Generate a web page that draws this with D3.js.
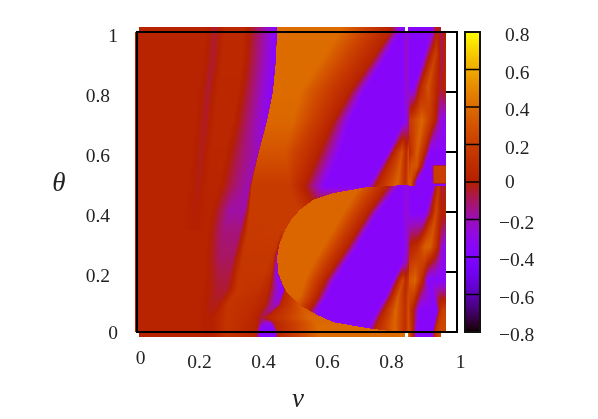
<!DOCTYPE html>
<html>
<head>
<meta charset="utf-8">
<script src="https://cdn.jsdelivr.net/npm/d3@7"></script>
<style>
  html, body { margin: 0; background: #fff; }
  #chart { position: relative; width: 598px; height: 419px; overflow: hidden; }
  #chart canvas, #chart svg { position: absolute; left: 0; top: 0; }
  text { font-family: "Liberation Serif", serif; font-size: 19.5px; fill: #222; }
</style>
</head>
<body>
<div id="chart"></div>
<script>
const vTicks = [0, 0.2, 0.4, 0.6, 0.8, 1];
const thetaTicks = [0, 0.2, 0.4, 0.6, 0.8, 1];
const barTicks = [0.8, 0.6, 0.4, 0.2, 0, -0.2, -0.4, -0.6, -0.8];

// values: each row is a list of v positions and the value there
const upperTheta = [1, 0.9, 0.8, 0.7, 0.6, 0.487, 0.407, 0.34];
const upperV = [
  [-0.006, 0.213, 0.244, 0.275, 0.331, 0.391, 0.437, 0.438, 0.634, 0.791, 0.822, 0.831, 0.834, 0.838, 0.844, 0.85],
  [-0.006, 0.206, 0.238, 0.269, 0.325, 0.384, 0.433, 0.434, 0.572, 0.728, 0.769, 0.831, 0.834, 0.838, 0.844, 0.85],
  [-0.006, 0.191, 0.222, 0.253, 0.313, 0.372, 0.424, 0.425, 0.509, 0.663, 0.709, 0.831, 0.834, 0.838, 0.844, 0.85],
  [-0.006, 0.181, 0.213, 0.244, 0.297, 0.353, 0.405, 0.406, 0.488, 0.609, 0.663, 0.831, 0.834, 0.838, 0.844, 0.85],
  [-0.006, 0.172, 0.203, 0.234, 0.275, 0.328, 0.38, 0.381, 0.463, 0.566, 0.634, 0.784, 0.803, 0.828, 0.841, 0.85],
  [-0.006, 0.159, 0.191, 0.222, 0.253, 0.309, 0.352, 0.358, 0.478, 0.519, 0.588, 0.722, 0.747, 0.813, 0.838, 0.85],
  [-0.006, 0.153, 0.184, 0.216, 0.234, 0.291, 0.338, 0.353, 0.494, 0.509, 0.541, 0.722, 0.747, 0.813, 0.838, 0.85],
  [-0.006, 0.147, 0.178, 0.209, 0.222, 0.269, 0.322, 0.347, 0.494, 0.509, 0.541, 0.722, 0.747, 0.813, 0.838, 0.85]
];
const upperZ = [
  [0.03, 0.03, -0.05, 0.07, 0.07, -0.16, -0.36, 0.4, 0.4, 0.03, -0.35, -0.35, -0.3, -0.3, -0.22, -0.3],
  [0.03, 0.03, -0.05, 0.07, 0.07, -0.16, -0.36, 0.4, 0.4, 0.03, -0.35, -0.35, -0.3, -0.3, -0.22, -0.3],
  [0.03, 0.03, -0.05, 0.06, 0.06, -0.16, -0.36, 0.4, 0.4, 0.03, -0.35, -0.35, -0.3, -0.3, -0.22, -0.3],
  [0.03, 0.03, -0.04, 0.06, 0.06, -0.14, -0.3, 0.38, 0.38, 0.03, -0.35, -0.35, -0.3, -0.3, -0.22, -0.3],
  [0.03, 0.03, -0.03, 0.05, 0.05, -0.11, -0.22, 0.3, 0.3, 0.03, -0.35, -0.35, 0.03, 0.3, 0.05, 0.3],
  [0.03, 0.03, -0.02, 0.04, 0.04, -0.12, -0.2, 0.18, 0.18, 0.03, -0.35, -0.35, 0.03, 0.38, 0.1, 0.35],
  [0.03, 0.03, -0.01, 0.03, 0.03, -0.18, -0.18, 0.18, 0.18, 0.18, 0.18, 0.18, 0.18, 0.18, 0.18, 0.18],
  [0.03, 0.03, 0, 0.03, 0.03, -0.13, -0.13, 0.17, 0.18, 0.18, 0.18, 0.18, 0.18, 0.18, 0.18, 0.18]
];

const lowerTheta = [0.34, 0.25, 0.197, 0.14, 0.09, 0.047, 0.033, 0.02, 0];
const lowerV = [
  [-0.006, 0.222, 0.269, 0.322, 0.347, 0.447, 0.45, 0.453, 0.456, 0.459, 0.509, 0.85],
  [-0.006, 0.213, 0.259, 0.3, 0.331, 0.416, 0.428, 0.434, 0.438, 0.441, 0.509, 0.85],
  [-0.006, 0.213, 0.256, 0.291, 0.322, 0.4, 0.422, 0.434, 0.438, 0.444, 0.509, 0.85],
  [-0.006, 0.206, 0.253, 0.281, 0.313, 0.378, 0.409, 0.447, 0.459, 0.463, 0.525, 0.85],
  [-0.006, 0.197, 0.228, 0.253, 0.284, 0.353, 0.397, 0.425, 0.441, 0.45, 0.509, 0.85],
  [-0.006, 0.191, 0.216, 0.234, 0.281, 0.347, 0.369, 0.384, 0.394, 0.409, 0.541, 0.85],
  [-0.006, 0.191, 0.216, 0.234, 0.281, 0.353, 0.378, 0.394, 0.419, 0.431, 0.556, 0.85],
  [-0.006, 0.191, 0.216, 0.234, 0.281, 0.353, 0.375, 0.391, 0.422, 0.434, 0.566, 0.85],
  [-0.006, 0.191, 0.216, 0.234, 0.281, 0.353, 0.372, 0.384, 0.431, 0.441, 0.572, 0.85]
];
const lowerZ = [
  [0.03, 0.03, -0.13, -0.13, 0.17, 0.18, 0.18, 0.18, 0.18, 0.18, 0.3, 0.4],
  [0.03, 0.03, -0.1, -0.1, 0.16, 0.16, 0.12, -0.15, -0.2, 0.1, 0.3, 0.4],
  [0.03, 0.03, -0.07, -0.07, 0.15, 0.15, 0.08, -0.3, -0.3, 0.1, 0.3, 0.4],
  [0.03, 0.03, -0.05, -0.05, 0.15, 0.12, 0.05, -0.33, -0.33, 0.05, 0.3, 0.4],
  [0.03, 0.03, -0.02, -0.02, 0.14, 0.1, 0.03, -0.2, -0.2, 0.05, 0.3, 0.4],
  [0.03, 0.03, 0, 0, 0.14, 0.08, 0.03, -0.03, -0.05, 0.05, 0.38, 0.4],
  [0.03, 0.03, 0, 0, 0.14, 0.07, 0.02, -0.2, -0.2, 0.05, 0.38, 0.4],
  [0.03, 0.03, 0, 0, 0.14, 0.06, 0.02, -0.33, -0.33, 0.04, 0.4, 0.4],
  [0.03, 0.03, 0, 0, 0.13, 0.05, 0.03, -0.35, -0.35, 0.05, 0.4, 0.4]
];

// left edge of the round region, theta then v
const arcTheta = [0.49, 0.483, 0.463, 0.44, 0.407, 0.373, 0.34, 0.29, 0.25, 0.197, 0.157, 0.13, 0.09, 0.057, 0.033, 0.013, 0.003, 0];
const arcV = [0.838, 0.719, 0.613, 0.55, 0.509, 0.481, 0.463, 0.444, 0.438, 0.441, 0.456, 0.469, 0.509, 0.563, 0.613, 0.719, 0.791, 0.85];

const discTheta = [0.487, 0.397, 0.283, 0.233, 0.173, 0.117, 0.073, 0.033, 0];
const discV = [
  [0.416, 0.697, 0.781, 0.822, 0.831, 0.834, 0.838, 0.844, 0.85],
  [0.416, 0.644, 0.722, 0.753, 0.831, 0.834, 0.838, 0.844, 0.85],
  [0.416, 0.581, 0.656, 0.688, 0.831, 0.834, 0.838, 0.844, 0.85],
  [0.416, 0.553, 0.625, 0.656, 0.828, 0.831, 0.834, 0.838, 0.85],
  [0.416, 0.525, 0.588, 0.619, 0.8, 0.816, 0.831, 0.841, 0.85],
  [0.416, 0.509, 0.563, 0.594, 0.775, 0.794, 0.816, 0.838, 0.85],
  [0.416, 0.509, 0.541, 0.566, 0.75, 0.772, 0.809, 0.838, 0.85],
  [0.416, 0.509, 0.541, 0.566, 0.731, 0.753, 0.806, 0.838, 0.85],
  [0.416, 0.509, 0.541, 0.566, 0.716, 0.741, 0.806, 0.838, 0.85]
];
const discZ = [
  [0.38, 0.38, 0.03, -0.35, -0.35, -0.3, -0.3, -0.3, -0.3],
  [0.38, 0.38, 0.03, -0.35, -0.35, -0.3, -0.3, -0.22, -0.3],
  [0.38, 0.38, 0.03, -0.35, -0.35, -0.3, -0.3, -0.22, -0.3],
  [0.38, 0.38, 0.03, -0.35, -0.35, -0.3, -0.3, -0.22, -0.1],
  [0.38, 0.38, 0.03, -0.35, -0.35, 0.03, 0.25, 0.05, 0.2],
  [0.38, 0.38, 0.03, -0.35, -0.35, 0.03, 0.33, 0.08, 0.28],
  [0.38, 0.2, 0, -0.35, -0.35, 0.03, 0.38, 0.1, 0.3],
  [0.38, 0.2, 0, -0.35, -0.35, 0.03, 0.38, 0.1, 0.3],
  [0.38, 0.2, 0, -0.35, -0.35, 0.03, 0.38, 0.1, 0.3]
];

const rightTopTheta = [1, 0.93, 0.817, 0.707, 0.597, 0.557, 0.553, 0.497, 0.493, 0.487];
const rightTopV = [
  [0.85, 0.916, 0.928, 0.934, 0.941, 0.95, 0.959, 0.966],
  [0.85, 0.897, 0.919, 0.934, 0.944, 0.953, 0.963, 0.966],
  [0.85, 0.866, 0.884, 0.909, 0.938, 0.95, 0.963, 0.966],
  [0.85, 0.859, 0.891, 0.919, 0.934, 0.947, 0.963, 0.966],
  [0.85, 0.859, 0.875, 0.9, 0.916, 0.947, 0.963, 0.966],
  [0.85, 0.859, 0.875, 0.888, 0.903, 0.925, 0.927, 0.966],
  [0.85, 0.859, 0.875, 0.888, 0.903, 0.925, 0.927, 0.966],
  [0.85, 0.856, 0.866, 0.872, 0.884, 0.925, 0.927, 0.966],
  [0.85, 0.856, 0.866, 0.872, 0.884, 0.925, 0.927, 0.966],
  [0.85, 0.856, 0.866, 0.872, 0.884, 0.925, 0.927, 0.966]
];
const rightTopZ = [
  [-0.35, -0.35, -0.2, 0, 0.02, -0.1, 0, 0],
  [-0.35, -0.35, 0.03, 0.2, 0.03, -0.1, 0.03, 0.03],
  [-0.35, -0.35, 0.03, 0.3, 0.03, -0.05, 0.05, 0.05],
  [0.15, 0.2, 0.38, 0.15, 0, -0.25, -0.3, -0.3],
  [0.05, 0.15, 0.35, 0.03, -0.35, -0.35, -0.35, -0.35],
  [0.2, 0.3, 0.3, 0.03, -0.35, -0.35, -0.35, -0.35],
  [0.2, 0.3, 0.3, 0.03, -0.35, -0.35, 0.2, 0.2],
  [0.35, 0.3, 0.03, -0.35, -0.35, -0.35, 0.2, 0.2],
  [0.35, 0.3, 0.03, -0.35, -0.35, -0.35, -0.35, -0.35],
  [0.35, 0.3, 0.03, -0.35, -0.35, -0.35, -0.35, -0.35]
];

const rightLowTheta = [0.487, 0.397, 0.283, 0.173, 0.073, 0];
const rightLowV = [
  [0.85, 0.928, 0.934, 0.944, 0.95, 0.956, 0.963, 0.966],
  [0.85, 0.9, 0.922, 0.934, 0.947, 0.956, 0.963, 0.966],
  [0.85, 0.875, 0.9, 0.916, 0.941, 0.95, 0.959, 0.966],
  [0.85, 0.869, 0.894, 0.909, 0.934, 0.95, 0.963, 0.966],
  [0.85, 0.862, 0.884, 0.938, 0.947, 0.956, 0.963, 0.966],
  [0.85, 0.862, 0.875, 0.922, 0.931, 0.947, 0.963, 0.966]
];
const rightLowZ = [
  [-0.35, -0.35, 0.03, 0.15, 0, -0.1, 0.02, 0.02],
  [-0.35, -0.35, 0.03, 0.25, 0.05, 0, 0.03, 0.03],
  [0.02, 0.1, 0.35, 0.35, 0.03, -0.2, -0.3, -0.3],
  [0.3, 0.38, 0.03, -0.35, -0.35, -0.35, -0.35, -0.35],
  [0.2, 0.03, -0.35, -0.35, 0.1, 0.2, 0.2, 0.2],
  [0.3, 0.03, -0.35, -0.35, 0.1, 0.25, 0.25, 0.25]
];

const width = 598, height = 419;

const x = d3.scaleLinear().domain([0, 1]).range([137, 457]);
const y = d3.scaleLinear().domain([0, 1]).range([332, 32]);
const barY = d3.scaleLinear().domain([-0.8, 0.8]).range([332, 32]);
const shade = d3.scaleLinear().domain([-0.8, 0.8]).range([0, 1]).clamp(true);

// gnuplot default pm3d palette (rgbformulae 7,5,15)
function palette(z) {
  const t = shade(z);
  return [
    255 * Math.sqrt(t),
    255 * t * t * t,
    255 * Math.max(0, Math.sin(2 * Math.PI * t))
  ];
}

// turns a table of rows into: theta -> (v -> z)
function profile(thetas, vRows, zRows) {
  const stops = vRows[0].map(function(_, i) {
    return {
      at: d3.scaleLinear().domain(thetas).range(vRows.map(function(r) { return r[i]; })).clamp(true),
      val: d3.scaleLinear().domain(thetas).range(zRows.map(function(r) { return r[i]; })).clamp(true)
    };
  });
  return function(theta) {
    return d3.scaleLinear()
      .domain(stops.map(function(s) { return s.at(theta); }))
      .range(stops.map(function(s) { return s.val(theta); }))
      .clamp(true);
  };
}

const upperRow = profile(upperTheta, upperV, upperZ);
const lowerRow = profile(lowerTheta, lowerV, lowerZ);
const discRow = profile(discTheta, discV, discZ);
const rightTopRow = profile(rightTopTheta, rightTopV, rightTopZ);
const rightLowRow = profile(rightLowTheta, rightLowV, rightLowZ);
const arcEdge = d3.scaleLinear().domain(arcTheta).range(arcV).clamp(true);

const chart = d3.select("#chart");

const canvas = chart.append("canvas")
  .attr("width", width)
  .attr("height", height);
const ctx = canvas.node().getContext("2d");
const image = ctx.createImageData(width, height);

for (let py = 27; py < 337; py++) {
  const theta = y.invert(py + 0.5);
  const strip = py < 32 || py >= 332;
  const left = theta > 0.34 ? upperRow(theta) : lowerRow(theta);
  const disc = discRow(theta);
  const right = theta > 0.487 ? rightTopRow(theta) : rightLowRow(theta);
  const edge = arcEdge(theta);
  for (let px = 135; px < 446; px++) {
    if (strip && (px < 139 || px >= 441 || (px >= 405 && px < 408))) continue;
    const v = x.invert(px + 0.5);
    let z;
    if (v >= 0.85) z = right(v);
    else if (theta <= 0.49 && v >= edge) z = disc(v);
    else z = left(v);
    const c = palette(z);
    const k = (py * width + px) * 4;
    image.data[k] = c[0];
    image.data[k + 1] = c[1];
    image.data[k + 2] = c[2];
    image.data[k + 3] = 255;
  }
}
ctx.putImageData(image, 0, 0);

const svg = chart.append("svg")
  .attr("width", width)
  .attr("height", height);

// frame, right side ticks only show where the map stops
svg.append("rect")
  .attr("x", x(0))
  .attr("y", y(1))
  .attr("width", x(1) - x(0))
  .attr("height", y(0) - y(1))
  .attr("fill", "none")
  .attr("stroke", "#000")
  .attr("stroke-width", 2);

svg.selectAll(".right-tick")
  .data(thetaTicks.slice(1, 5))
  .enter().append("line")
    .attr("class", "right-tick")
    .attr("x1", 446)
    .attr("x2", x(1))
    .attr("y1", function(d) { return y(d); })
    .attr("y2", function(d) { return y(d); })
    .attr("stroke", "#000")
    .attr("stroke-width", 2);

const fmt = function(d) { return String(d).replace("-", "\u2212"); };

const xAxis = svg.append("g")
  .attr("transform", "translate(0,332)")
  .call(d3.axisBottom(x).tickValues(vTicks).tickSize(0).tickPadding(0).tickFormat(fmt));
xAxis.select(".domain").remove();
xAxis.selectAll("text")
  .attr("fill", null)
  .attr("dy", null)
  .attr("dx", function(d) { return d === 0 ? 3 : (d === 1 ? 3 : -2); })
  .attr("y", function(d) { return d === 0 ? 32 : 36; });

const yAxis = svg.append("g")
  .attr("transform", "translate(118,0)")
  .call(d3.axisLeft(y).tickValues(thetaTicks).tickSize(0).tickPadding(0).tickFormat(fmt));
yAxis.select(".domain").remove();
yAxis.selectAll("text")
  .attr("fill", null)
  .attr("x", function(d) { return d === 0 || d === 1 ? 0 : -8; })
  .attr("dy", function(d) { return d === 0 ? 6 : 9; });

svg.append("text")
  .attr("x", 59)
  .attr("y", 191)
  .attr("text-anchor", "middle")
  .style("font-size", "27px")
  .style("font-style", "italic")
  .text("\u03b8");

svg.append("text")
  .attr("x", 298)
  .attr("y", 407)
  .attr("text-anchor", "middle")
  .style("font-size", "27px")
  .style("font-style", "italic")
  .text("v");

// colour bar
svg.selectAll(".bar-cell")
  .data(d3.range(32, 332))
  .enter().append("rect")
    .attr("class", "bar-cell")
    .attr("x", 465)
    .attr("y", function(d) { return d; })
    .attr("width", 15)
    .attr("height", 1)
    .attr("fill", function(d) {
      const c = palette(barY.invert(d + 0.5));
      return d3.rgb(c[0], c[1], c[2]);
    });

svg.selectAll(".bar-tick")
  .data(barTicks.slice(1, 8))
  .enter().append("line")
    .attr("class", "bar-tick")
    .attr("x1", 465)
    .attr("x2", 480)
    .attr("y1", function(d) { return barY(d); })
    .attr("y2", function(d) { return barY(d); })
    .attr("stroke", "#000")
    .attr("stroke-width", 1.5);

svg.append("rect")
  .attr("x", 465)
  .attr("y", 32)
  .attr("width", 15)
  .attr("height", 300)
  .attr("fill", "none")
  .attr("stroke", "#111")
  .attr("stroke-width", 2);

svg.selectAll(".bar-label")
  .data(barTicks)
  .enter().append("text")
    .attr("class", "bar-label")
    .attr("x", function(d) { return d < 0 ? 499 : 505; })
    .attr("y", barY)
    .attr("dy", function(d) { return d === 0 ? 6 : 9; })
    .text(fmt);
</script>
</body>
</html>
